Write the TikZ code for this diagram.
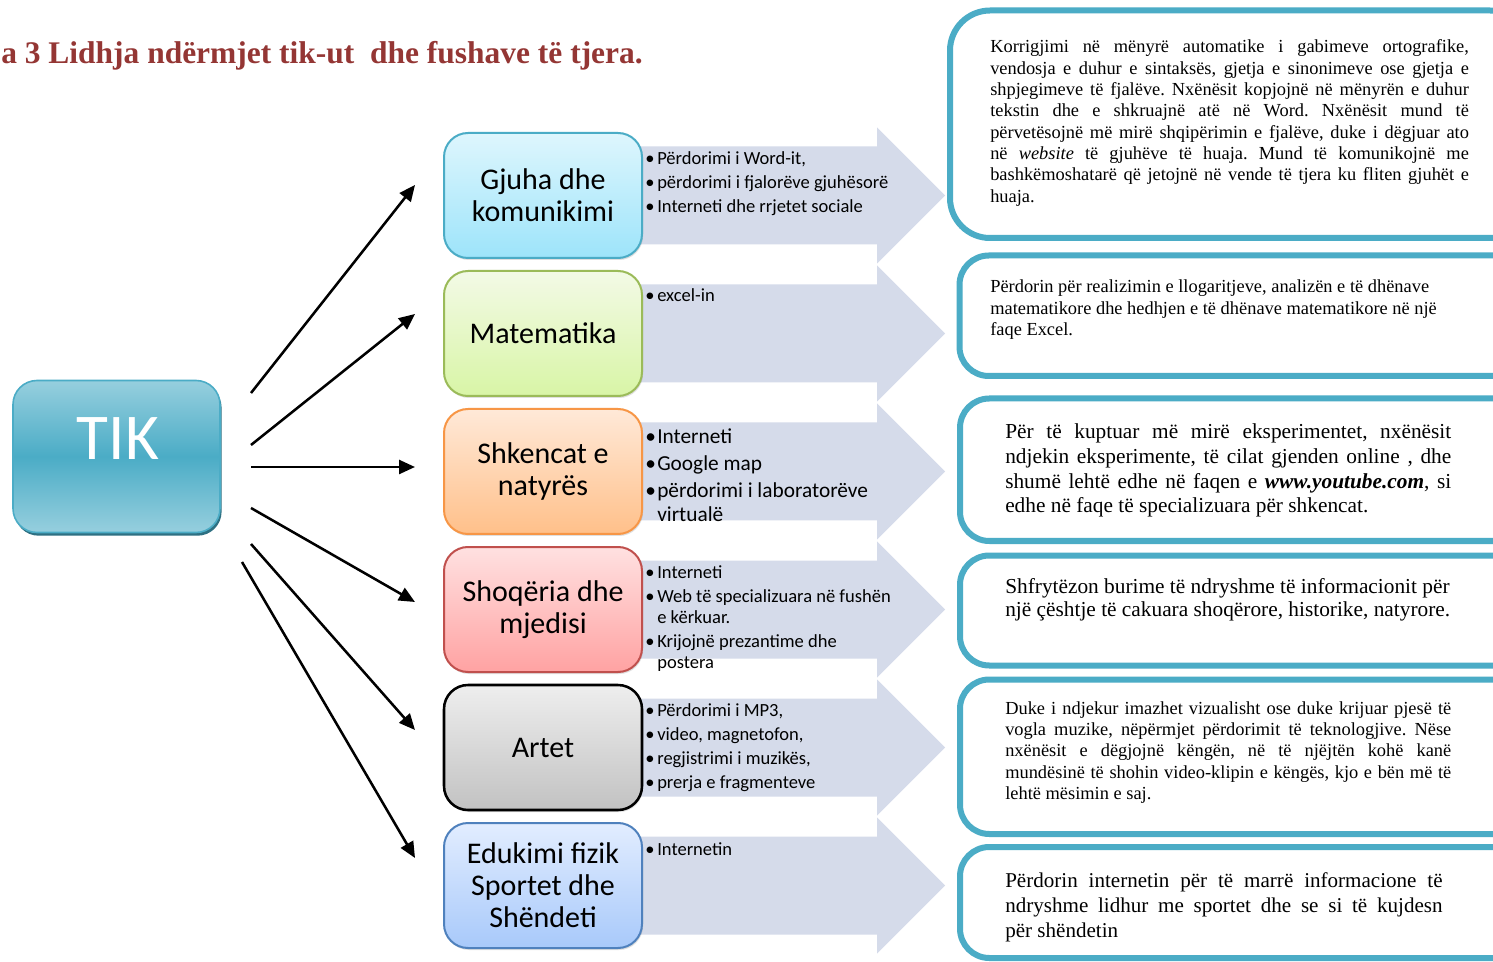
\documentclass[tikz,border=0pt]{standalone}
\usepackage{fontspec}
\setmainfont{Liberation Serif}
\newfontfamily\calfont{Carlito}
\usetikzlibrary{arrows.meta,shadows}
\frenchspacing

\definecolor{titlered}{RGB}{148,54,52}
\definecolor{tealB}{RGB}{75,172,198}
\definecolor{tiktop}{RGB}{150,207,222}
\definecolor{tikshadow}{RGB}{46,112,130}
\definecolor{arrowfill}{RGB}{213,219,234}
\definecolor{gAtop}{RGB}{222,246,253}\definecolor{gAbot}{RGB}{157,228,250}\definecolor{gAline}{RGB}{75,172,198}
\definecolor{gBtop}{RGB}{243,250,230}\definecolor{gBbot}{RGB}{216,245,166}\definecolor{gBline}{RGB}{155,187,89}
\definecolor{gCtop}{RGB}{255,233,216}\definecolor{gCbot}{RGB}{255,192,138}\definecolor{gCline}{RGB}{247,150,70}
\definecolor{gDtop}{RGB}{255,225,225}\definecolor{gDbot}{RGB}{255,162,162}\definecolor{gDline}{RGB}{192,80,77}
\definecolor{gEtop}{RGB}{238,238,238}\definecolor{gEbot}{RGB}{194,194,194}\definecolor{gEline}{RGB}{0,0,0}
\definecolor{gFtop}{RGB}{226,237,255}\definecolor{gFbot}{RGB}{168,201,250}\definecolor{gFline}{RGB}{79,129,189}

% text block whose baseline is that of its first line
\newcommand\txtblock[4]{\vtop{\hsize=#1\parindent=0pt\parskip=0pt\frenchspacing\fontsize{#2}{#3}\selectfont #4\par}}
% bullet block
\newcommand\bulblock[4]{\vtop{\hsize=240pt\parindent=0pt\parskip=#3\calfont\fontsize{#1}{#2}\selectfont #4}}
\newcommand\bitem[1]{\hangindent=9pt\hangafter=1\noindent\makebox[9pt][l]{•}#1\par}

\begin{document}
\begin{tikzpicture}[x=0.75pt,y=-0.75pt,
  catbox/.style={rounded corners=18pt, line width=1.5pt, minimum width=148.5pt,
    minimum height=93.75pt, align=center, inner sep=0pt,
    font=\calfont\fontsize{22.5}{24}\selectfont,
    drop shadow={opacity=0.25, shadow xshift=0.8pt, shadow yshift=-1.5pt}},
  rbox/.style={draw=tealB, line width=4.5pt, fill=white, rounded corners=22pt},
  conn/.style={line width=1.9pt, -{Triangle[length=12pt,width=10.5pt]}},
  bigarrow/.style={fill=arrowfill},
  bul/.style={anchor=base west, inner sep=0pt},
  rtext/.style={anchor=base west, inner sep=0pt}
]
\useasboundingbox (0,0) rectangle (1493,962);
\clip (0,0) rectangle (1493,962);
\fill[white] (0,0) rectangle (1493,962);

% title
\node[anchor=base west, inner sep=0pt, text=titlered,
  font=\bfseries\fontsize{23.6}{28}\selectfont] (title) at (1,64)
  {a 3 Lidhja ndërmjet tik-ut~ dhe fushave të tjera.};

% big light arrows
\foreach \cy in {195.5,333.5,471.5,609.5,747.5,885.5}{
  \fill[bigarrow] (600,\cy-49) -- (877,\cy-49) -- (877,\cy-68) -- (945,\cy)
    -- (877,\cy+68) -- (877,\cy+49) -- (600,\cy+49) -- cycle;
}

% category boxes
\node[catbox, top color=gAtop, bottom color=gAbot, draw=gAline] (gjuha) at (543,195.5) {Gjuha dhe\\komunikimi};
\node[catbox, top color=gBtop, bottom color=gBbot, draw=gBline] (mat) at (543,333.5) {Matematika};
\node[catbox, top color=gCtop, bottom color=gCbot, draw=gCline] (shk) at (543,471.5) {Shkencat e\\natyrës};
\node[catbox, top color=gDtop, bottom color=gDbot, draw=gDline] (shoq) at (543,609.5) {Shoqëria dhe\\mjedisi};
\node[catbox, top color=gEtop, bottom color=gEbot, draw=gEline, line width=1.9pt] (art) at (543,747.5) {Artet};
\node[catbox, top color=gFtop, bottom color=gFbot, draw=gFline] (edu) at (543,885.5) {Edukimi fizik\\Sportet dhe\\Shëndeti};

% bullet lists
\node[bul] (bA) at (645,165) {\bulblock{13.9}{15.75pt}{2.25pt}{%
  \bitem{Përdorimi i Word-it,}\bitem{përdorimi i fjalorëve gjuhësorë}\bitem{Interneti dhe rrjetet sociale}}};
\node[bul] (bB) at (645,302) {\bulblock{13.9}{15.75pt}{2.25pt}{\bitem{excel-in}}};
\node[bul] (bC) at (645,443.5) {\bulblock{16}{18pt}{2.25pt}{%
  \bitem{Interneti}\bitem{Google map}\bitem{përdorimi i laboratorëve\newline virtualë}}};
\node[bul] (bD) at (645,578.5) {\bulblock{13.9}{15.75pt}{2.25pt}{%
  \bitem{Interneti}\bitem{Web të specializuara në fushën\newline e kërkuar.}\bitem{Krijojnë prezantime dhe\newline postera}}};
\node[bul] (bE) at (645,716.5) {\bulblock{13.9}{15.75pt}{2.25pt}{%
  \bitem{Përdorimi i MP3,}\bitem{video, magnetofon,}\bitem{regjistrimi i muzikës,}\bitem{prerja e fragmenteve}}};
\node[bul] (bF) at (645,855.5) {\bulblock{13.9}{15.75pt}{2.25pt}{\bitem{Internetin}}};

% right description boxes
\draw[rbox, rounded corners=30pt] (950,10.5) rectangle (1530,238);
\draw[rbox] (959.5,255.5) rectangle (1530,376);
\draw[rbox] (960,398.5) rectangle (1530,541);
\draw[rbox] (960,555.5) rectangle (1530,665.5);
\draw[rbox] (960,679.5) rectangle (1530,834);
\draw[rbox] (960,847) rectangle (1530,958);

\node[rtext] (tA) at (990,53) {\txtblock{359pt}{13.8}{16pt}{%
Korrigjimi në mënyrë automatike i gabimeve ortografike,\linebreak
vendosja e duhur e sintaksës, gjetja e sinonimeve ose gjetja e\linebreak
shpjegimeve të fjalëve. Nxënësit kopjojnë në mënyrën e duhur\linebreak
tekstin dhe e shkruajnë atë në Word. Nxënësit mund të\linebreak
përvetësojnë më mirë shqipërimin e fjalëve, duke i dëgjuar ato\linebreak
në \textit{website} të gjuhëve të huaja. Mund të komunikojnë me\linebreak
bashkëmoshatarë që jetojnë në vende të tjera ku fliten gjuhët e\linebreak
huaja.}};
\node[rtext] (tB) at (990,293) {\txtblock{359pt}{13.8}{16pt}{%
Përdorin për realizimin e llogaritjeve, analizën e të dhënave\newline
matematikore dhe hedhjen e të dhënave matematikore në një\newline
faqe Excel.}};
\node[rtext] (tC) at (1005,439) {\txtblock{334.5pt}{16}{18.5pt}{%
Për të kuptuar më mirë eksperimentet, nxënësit\linebreak
ndjekin eksperimente, të cilat gjenden online , dhe\linebreak
shumë lehtë edhe në faqen e \textbf{\textit{www.youtube.com}}, si\linebreak
edhe në faqe të specializuara për shkencat.}};
\node[rtext] (tD) at (1005,593.5) {\txtblock{345pt}{16}{17.6pt}{%
Shfrytëzon burime të ndryshme të informacionit për\newline
një çështje të cakuara shoqërore, historike, natyrore.}};
\node[rtext] (tE) at (1005,714) {\txtblock{334.5pt}{13.8}{16.1pt}{%
Duke i ndjekur imazhet vizualisht ose duke krijuar pjesë të\linebreak
vogla muzike, nëpërmjet përdorimit të teknologjive. Nëse\linebreak
nxënësit e dëgjojnë këngën, në të njëjtën kohë kanë\linebreak
mundësinë të shohin video-klipin e këngës, kjo e bën më të\linebreak
lehtë mësimin e saj.}};
\node[rtext] (tF) at (1005,887) {\txtblock{328pt}{15.8}{18.75pt}{%
Përdorin internetin për të marrë informacione të\linebreak
ndryshme lidhur me sportet dhe se si të kujdesn\linebreak
për shëndetin}};

% TIK box
\node[rounded corners=18pt, draw=tealB, line width=1.2pt,
  top color=tiktop, bottom color=tiktop, middle color=tealB,
  minimum width=155.25pt, minimum height=114pt, inner sep=0pt,
  drop shadow={fill=tikshadow, opacity=1, shadow xshift=1.2pt, shadow yshift=-2.4pt}]
  (tik) at (116.5,456.5) {};
\node[text=white, inner sep=0pt, font=\calfont\fontsize{49}{58}\selectfont] (tiklabel) at (118,439) {TIK};

% connectors
\coordinate (s1) at (251,393); \coordinate (e1) at (415,185);
\coordinate (s2) at (251,445); \coordinate (e2) at (415,314);
\coordinate (s3) at (251,467); \coordinate (e3) at (415,467);
\coordinate (s4) at (251,508); \coordinate (e4) at (415,602);
\coordinate (s5) at (251,544); \coordinate (e5) at (415,730);
\coordinate (s6) at (242,562); \coordinate (e6) at (415,858);
\foreach \i in {1,...,6}{ \draw[conn] (s\i) -- (e\i); }
\end{tikzpicture}
\end{document}
